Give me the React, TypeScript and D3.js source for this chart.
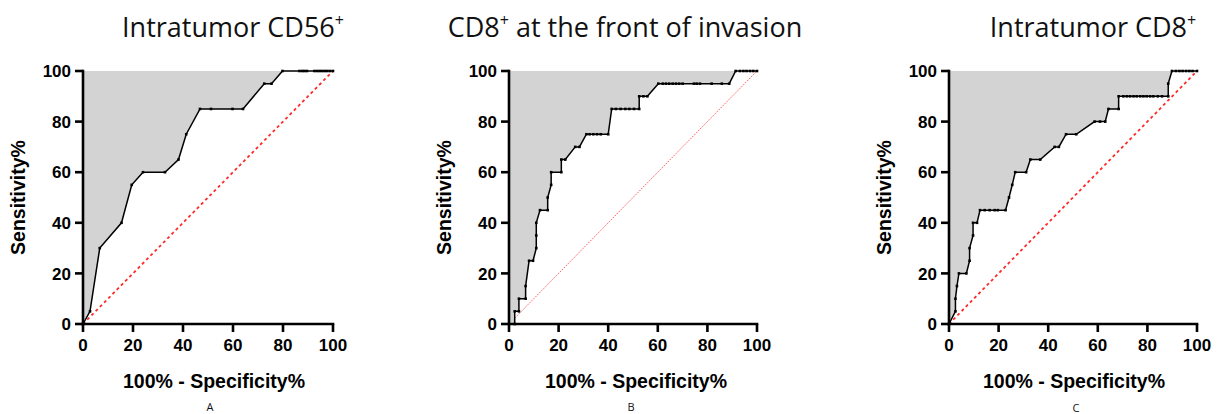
import React from 'react';
import * as d3 from 'd3';

// ---- data ----
const xTicks = [0, 20, 40, 60, 80, 100];
const yTicks = [0, 20, 40, 60, 80, 100];
const xLabel = '100% - Specificity%';
const yLabel = 'Sensitivity%';
const panelLetters = ['A', 'B', 'C'];
const titleMain = ['Intratumor CD56', 'CD8', 'Intratumor CD8'];
const titleRest = ['', ' at the front of invasion', ''];

const aFpr = [0, 2.8, 6.7, 15.4, 19.5, 24, 32.8, 38.2, 41.3, 46.8, 51.2, 59.8, 64, 72.5, 75.4, 79.8, 86.6, 87.7, 88.6, 89.6, 92.6, 93.7, 94.7, 95.7, 96.7, 97.7, 98.8, 100];
const aTpr = [0, 5, 30, 40, 55, 60, 60, 65, 75, 85, 85, 85, 85, 95, 95, 100, 100, 100, 100, 100, 100, 100, 100, 100, 100, 100, 100, 100];

const bFpr = [2.3, 2.3, 4, 4, 6.7, 6.7, 8.1, 9.7, 11, 11, 11, 12.5, 15.6, 15.6, 17, 17, 21.1, 21.1, 22.7, 26.7, 28.4, 31.2, 32.5, 34, 35.5, 37, 40, 41.4, 43.1, 45, 46.9, 48.5, 50.4, 52.5, 52.5, 54.2, 55.8, 60.2, 62, 63.3, 64.6, 66, 67.3, 68.6, 70, 74.6, 75.7, 77, 81.7, 85.8, 88.8, 91.4, 93.1, 94.5, 95.8, 97.2, 98.5, 100];
const bTpr = [0, 5, 5, 10, 10, 15, 25, 25, 30, 35, 40, 45, 45, 50, 55, 60, 60, 65, 65, 70, 70, 75, 75, 75, 75, 75, 75, 85, 85, 85, 85, 85, 85, 85, 90, 90, 90, 95, 95, 95, 95, 95, 95, 95, 95, 95, 95, 95, 95, 95, 95, 100, 100, 100, 100, 100, 100, 100];

const cFpr = [0, 2.6, 2.6, 3.2, 4, 7, 8.3, 8.3, 9.7, 9.7, 11.3, 12.5, 14.4, 16.4, 18.4, 19.7, 22.8, 24.2, 25.5, 26.7, 31.1, 32.8, 36.8, 42.6, 44.3, 47.2, 51.3, 58.7, 60.9, 63, 64.3, 68.4, 68.4, 70.3, 71.7, 73, 74.4, 75.7, 77.1, 78.4, 79.7, 81.1, 82.4, 84.2, 85.9, 88.4, 88.4, 89.9, 91.5, 92.9, 94.2, 95.6, 96.9, 98.2, 100];
const cTpr = [0, 5, 10, 15, 20, 20, 25, 30, 35, 40, 40, 45, 45, 45, 45, 45, 45, 50, 55, 60, 60, 65, 65, 70, 70, 75, 75, 80, 80, 80, 85, 85, 90, 90, 90, 90, 90, 90, 90, 90, 90, 90, 90, 90, 90, 90, 95, 100, 100, 100, 100, 100, 100, 100, 100];

const series = [
  { fpr: aFpr, tpr: aTpr },
  { fpr: bFpr, tpr: bTpr },
  { fpr: cFpr, tpr: cTpr },
];

// ---- layout ----
const W = 1219;
const H = 414;
const layout = [
  { x0: 83, x1: 333, titleX: 233, labelX: 214, letterX: 210, letterY: 411, thinDiag: false },
  { x0: 509, x1: 757, titleX: 625, labelX: 636, letterX: 631, letterY: 411, thinDiag: true },
  { x0: 949, x1: 1197, titleX: 1093, labelX: 1074, letterX: 1076, letterY: 412, thinDiag: false },
];
const yTop = 71;
const yBot = 324;
const tickLen = 8;
const axisFont = '"Liberation Sans", Arial, sans-serif';
const titleFont = '"Open Sans", "Noto Sans", sans-serif';

function Panel({ idx }: { idx: number }) {
  const L = layout[idx];
  const s = series[idx];
  const x = d3.scaleLinear().domain([0, 100]).range([L.x0, L.x1]);
  const y = d3.scaleLinear().domain([0, 100]).range([yBot, yTop]);
  const pts: [number, number][] = s.fpr.map((f, i) => [f, s.tpr[i]]);
  const line = d3.line<[number, number]>().x((d) => x(d[0])).y((d) => y(d[1]));
  const poly: [number, number][] = [[0, 0], ...pts, [100, 100], [0, 100]];
  const fillPath = line(poly) + 'Z';
  const cy = (yTop + yBot) / 2;
  return (
    <g>
      <text x={L.titleX} y={37} textAnchor="middle" fontFamily={titleFont} fontSize={27} fill="#111">
        {titleMain[idx]}
        <tspan fontSize={16} dy={-11}>+</tspan>
        {titleRest[idx] ? <tspan dy={11}>{titleRest[idx]}</tspan> : null}
      </text>
      <line
        x1={x(0)} y1={y(0)} x2={x(100)} y2={y(100)}
        stroke={L.thinDiag ? '#ff5c5c' : '#ff2a2a'}
        strokeWidth={L.thinDiag ? 1 : 1.8}
        strokeDasharray={L.thinDiag ? '1.5,1.2' : '3,3'}
      />
      <path d={fillPath} fill="#d3d3d3" stroke="none" />
      <path d={line(pts) || ''} fill="none" stroke="#000" strokeWidth={1.5} />
      {pts.map((p, i) => (
        <rect key={i} x={x(p[0]) - 1.3} y={y(p[1]) - 1.3} width={2.6} height={2.6} fill="#000" />
      ))}
      {/* axes */}
      <line x1={x(0)} y1={yBot} x2={x(100)} y2={yBot} stroke="#000" strokeWidth={2.6} strokeLinecap="square" />
      <line x1={x(0)} y1={yBot} x2={x(0)} y2={yTop} stroke="#000" strokeWidth={2.6} strokeLinecap="square" />
      {xTicks.map((t) => (
        <g key={'x' + t}>
          <line x1={x(t)} x2={x(t)} y1={yBot} y2={yBot + tickLen} stroke="#000" strokeWidth={2.6} />
          <text x={x(t)} y={351} textAnchor="middle" fontFamily={axisFont} fontWeight="bold" fontSize={17} fill="#000">{t}</text>
        </g>
      ))}
      {yTicks.map((t) => (
        <g key={'y' + t}>
          <line x1={L.x0 - tickLen} x2={L.x0} y1={y(t)} y2={y(t)} stroke="#000" strokeWidth={2.6} />
          <text x={L.x0 - tickLen - 4} y={y(t)} dy="0.36em" textAnchor="end" fontFamily={axisFont} fontWeight="bold" fontSize={17} fill="#000">{t}</text>
        </g>
      ))}
      <text x={L.labelX} y={388} textAnchor="middle" fontFamily={axisFont} fontWeight="bold" fontSize={19.5} fill="#000">{xLabel}</text>
      <text transform={`translate(${L.x0 - 58},${cy}) rotate(-90)`} textAnchor="middle" fontFamily={axisFont} fontWeight="bold" fontSize={19.5} fill="#000">{yLabel}</text>
      <text x={L.letterX} y={L.letterY} textAnchor="middle" fontFamily={titleFont} fontSize={11} fill="#111">{panelLetters[idx]}</text>
    </g>
  );
}

export default function App() {
  return (
    <svg width={W} height={H} style={{ position: 'absolute', left: 0, top: 0, background: '#fff' }}>
      <rect width={W} height={H} fill="#fff" />
      {[0, 1, 2].map((i) => <Panel key={i} idx={i} />)}
    </svg>
  );
}
